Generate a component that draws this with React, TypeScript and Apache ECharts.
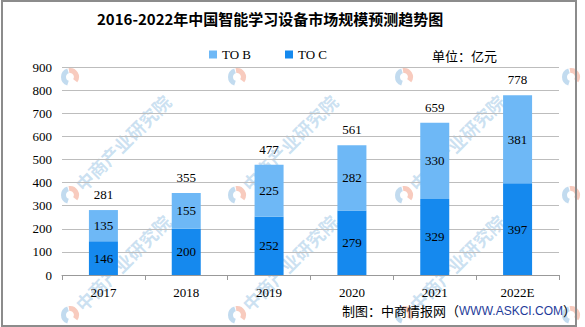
import React, { useEffect, useRef } from "react";
import * as echarts from "echarts";

const categories = ["2017", "2018", "2019", "2020", "2021", "2022E"];
const toC = [146, 200, 252, 279, 329, 397];
const toB = [135, 155, 225, 282, 330, 381];
const totals = [281, 355, 477, 561, 659, 778];
const yTicks = [0, 100, 200, 300, 400, 500, 600, 700, 800, 900];

const FONT = "'Liberation Serif', 'Noto Sans CJK SC', serif";
const CJK = "'Noto Sans CJK SC', sans-serif";

const wmRows = [77, 195, 315];
const wmCols = [70, 237, 404, 571];

function buildWatermarks() {
  const els: any[] = [];
  wmRows.forEach((y, ri) => {
    wmCols.forEach((x, ci) => {
      const children: any[] = [
        { type: "sector", shape: { cx: 0, cy: 0, r: 9, r0: 4, startAngle: Math.PI * 0.6, endAngle: Math.PI * 1.4 }, style: { fill: "rgba(120,175,220,0.45)" } },
        { type: "sector", shape: { cx: 0, cy: 0, r: 9, r0: 4, startAngle: Math.PI * 1.45, endAngle: Math.PI * 2.2 }, style: { fill: "rgba(240,140,110,0.45)" } },
      ];
      if (ri > 0 && ci < 3) {
        children.push({
          type: "text",
          x: 8,
          y: -8,
          rotation: Math.PI / 4,
          style: { text: "中商产业研究院", font: "bold 18px " + CJK, fill: "rgba(120,175,220,0.38)", textVerticalAlign: "middle" },
        });
      }
      els.push({ type: "group", x, y, silent: true, z: 0, children });
    });
  });
  return els;
}

export default function App() {
  const ref = useRef<HTMLDivElement>(null);
  useEffect(() => {
    if (!ref.current) return;
    const chart = echarts.init(ref.current, undefined, { renderer: "svg" });
    chart.setOption({
      animation: false,
      backgroundColor: "#fff",
      textStyle: { fontFamily: FONT },
      legend: {
        data: ["TO B", "TO C"],
        left: 204,
        top: 43,
        itemWidth: 8,
        itemHeight: 8,
        itemGap: 34,
        icon: "rect",
        textStyle: { fontSize: 13, color: "#000", fontFamily: FONT },
      },
      grid: { left: 62, right: 26, top: 67, bottom: 52, containLabel: false },
      xAxis: {
        type: "category",
        data: categories,
        axisLine: { lineStyle: { color: "#999" } },
        axisTick: { show: true, length: 5, lineStyle: { color: "#999" } },
        axisLabel: { color: "#000", fontSize: 13, margin: 11, fontFamily: FONT },
      },
      yAxis: {
        type: "value",
        min: yTicks[0],
        max: yTicks[yTicks.length - 1],
        interval: 100,
        axisLine: { show: false },
        axisTick: { show: false },
        axisLabel: { color: "#000", fontSize: 13, margin: 10, fontFamily: FONT },
        splitLine: { lineStyle: { color: "#bdbdbd" } },
      },
      series: [
        {
          name: "TO C",
          type: "bar",
          stack: "s",
          data: toC,
          barWidth: 29,
          itemStyle: { color: "#1589EE" },
          label: { show: true, position: "inside", color: "#000", fontSize: 13, fontFamily: FONT },
          z: 3,
        },
        {
          name: "TO B",
          type: "bar",
          stack: "s",
          data: toB,
          barWidth: 29,
          itemStyle: { color: "#6EB8F6" },
          label: { show: true, position: "inside", color: "#000", fontSize: 13, fontFamily: FONT },
          z: 3,
        },
        {
          name: "total",
          type: "bar",
          stack: "s",
          data: totals.map(() => 0),
          barWidth: 29,
          itemStyle: { color: "transparent" },
          label: {
            show: true,
            position: "top",
            distance: 9,
            color: "#000",
            fontSize: 13,
            fontFamily: FONT,
            formatter: (p: any) => String(totals[p.dataIndex]),
          },
          z: 3,
        },
      ],
      graphic: [
        ...buildWatermarks(),
        {
          type: "text",
          left: 97,
          top: 11,
          style: { text: "2016-2022年中国智能学习设备市场规模预测趋势图", font: "bold 15px " + CJK, fill: "#000" },
          z: 10,
        },
        {
          type: "text",
          left: 432,
          top: 49,
          style: { text: "单位：亿元", font: "13px " + CJK, fill: "#000" },
          z: 10,
        },
        {
          type: "text",
          left: 342,
          top: 304,
          style: {
            text: "{a|制图：中商情报网（}{b|WWW.ASKCI.COM}{a|）}",
            rich: {
              a: { fontSize: 13, fontFamily: CJK, fill: "#000" },
              b: { fontSize: 12, fontFamily: "'Liberation Sans', sans-serif", fill: "#1f3c9a" },
            },
          },
          z: 10,
        },
      ],
    });
    return () => chart.dispose();
  }, []);
  return (
    <div style={{ position: "absolute", left: 0, top: 0, width: 585, height: 327 }}>
      <div ref={ref} style={{ position: "absolute", left: 0, top: 0, width: 585, height: 327 }} />
      <div
        style={{
          position: "absolute",
          left: 1,
          top: 0,
          width: 576,
          height: 327,
          boxSizing: "border-box",
          border: "2px solid #8c8c8c",
          pointerEvents: "none",
        }}
      />
    </div>
  );
}
